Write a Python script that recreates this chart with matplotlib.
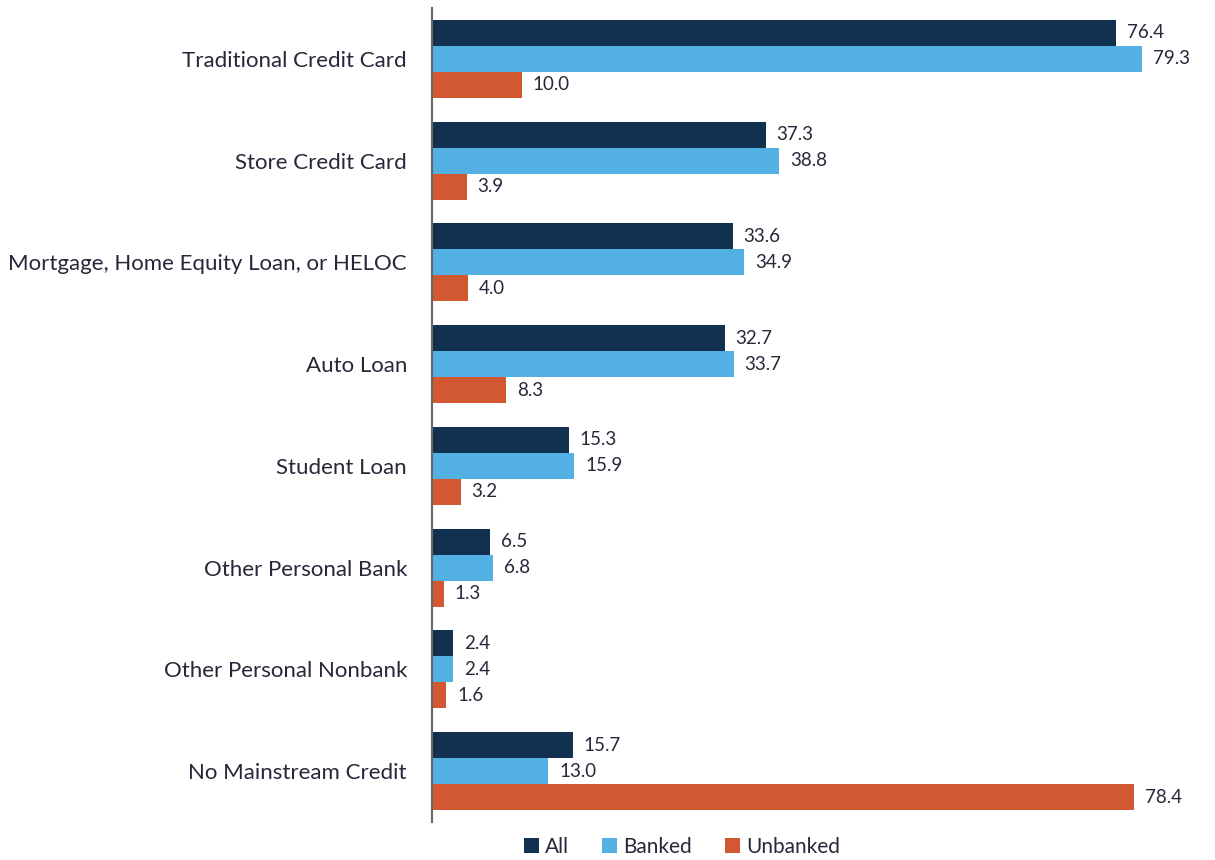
import matplotlib.pyplot as plt
import numpy as np

# --------------------------------------------------
# Data (percent of households using each credit product)
# --------------------------------------------------
categories = [
    "Traditional Credit Card",
    "Store Credit Card",
    "Mortgage, Home Equity Loan, or HELOC",
    "Auto Loan",
    "Student Loan",
    "Other Personal Bank",
    "Other Personal Nonbank",
    "No Mainstream Credit",
]
all_vals = [76.4, 37.3, 33.6, 32.7, 15.3, 6.5, 2.4, 15.7]
banked_vals = [79.3, 38.8, 34.9, 33.7, 15.9, 6.8, 2.4, 13.0]
unbanked_vals = [10.0, 3.9, 4.0, 8.3, 3.2, 1.3, 1.6, 78.4]

series = [
    ("All", all_vals, "#12304f"),
    ("Banked", banked_vals, "#52b0e3"),
    ("Unbanked", unbanked_vals, "#d15830"),
]

TEXT = "#26283a"
plt.rcParams["font.family"] = ["Lato", "DejaVu Sans"]

fig = plt.figure(figsize=(12.15, 8.6), dpi=100)
ax = fig.add_axes([432 / 1215, 38 / 860, 768 / 1215, 814 / 860])

y = np.arange(len(categories))
h = 0.256
for k, (label, vals, color) in enumerate(series):
    pos = y + (k - 1) * h
    ax.barh(pos, vals, height=h, color=color, label=label)
    for p, v in zip(pos, vals):
        ax.text(v + 1.2, p, f"{v:.1f}", va="center", ha="left",
                fontsize=13.5, color=TEXT)

ax.set_xlim(0, 85.8)
ax.set_ylim(7.5, -0.5)
ax.set_yticks(y)
ax.set_yticklabels(categories, fontsize=16, color=TEXT)
ax.tick_params(axis="y", length=0, pad=18)
ax.set_xticks([])
for s in ["top", "right", "bottom"]:
    ax.spines[s].set_visible(False)
ax.spines["left"].set_color("#666666")
ax.spines["left"].set_linewidth(1.5)

leg = fig.legend(loc="center", bbox_to_anchor=(682 / 1215, 1 - 847 / 860),
                 ncol=3, frameon=False, fontsize=15, handlelength=0.7,
                 handleheight=0.7, handletextpad=0.3, columnspacing=1.6)
for t in leg.get_texts():
    t.set_color(TEXT)

fig.savefig("out.png", dpi=100)
